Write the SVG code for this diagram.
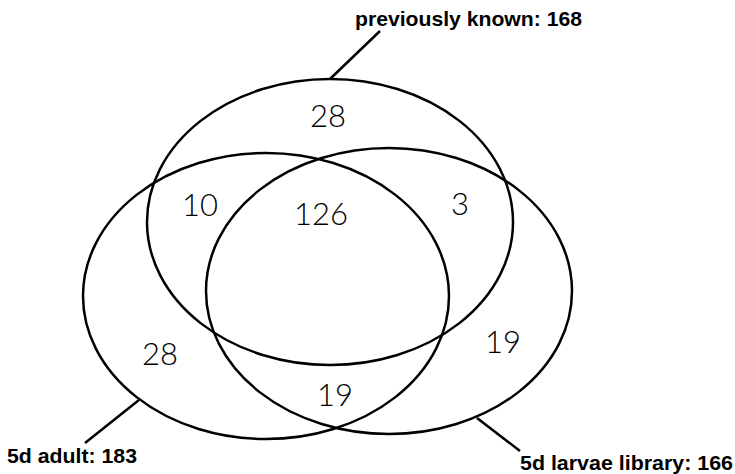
<svg xmlns="http://www.w3.org/2000/svg" width="735" height="474" viewBox="0 0 735 474">
<style>
.set{fill:none;stroke:#000;stroke-width:2.5}
.lead{stroke:#000;stroke-width:2.5;fill:none}
.lbl{font-family:"Liberation Sans",Arial,sans-serif;font-weight:bold;font-size:21px;fill:#000}
.num{font-family:"Lato","Liberation Sans",sans-serif;font-weight:300;font-size:31px;fill:#000;text-anchor:middle}
</style>
<rect width="735" height="474" fill="#fff"/>
<g id="set-previously-known">
<ellipse class="set" cx="330" cy="222" rx="183" ry="143"/>
<text class="lbl" x="355" y="26" textLength="227" lengthAdjust="spacingAndGlyphs">previously known: 168</text>
</g>
<g id="set-5d-adult">
<ellipse class="set" cx="266" cy="296" rx="183" ry="143"/>
<text class="lbl" x="7" y="463" textLength="130" lengthAdjust="spacingAndGlyphs">5d adult: 183</text>
</g>
<g id="set-5d-larvae">
<ellipse class="set" cx="389" cy="291" rx="183" ry="143"/>
<text class="lbl" x="520" y="470" textLength="213" lengthAdjust="spacingAndGlyphs">5d larvae library: 166</text>
</g>
<g id="connectors">
<line class="lead" x1="330" y1="79" x2="380" y2="31"/>
<line class="lead" x1="139" y1="400" x2="85" y2="443"/>
<line class="lead" x1="477" y1="418" x2="520" y2="451"/>
</g>
<g id="counts">
<text class="num" x="328" y="127">28</text>
<text class="num" x="200" y="216">10</text>
<text class="num" x="321" y="225">126</text>
<text class="num" x="460" y="215">3</text>
<text class="num" x="160" y="365">28</text>
<text class="num" x="335" y="406">19</text>
<text class="num" x="503" y="353">19</text>
</g>
</svg>
